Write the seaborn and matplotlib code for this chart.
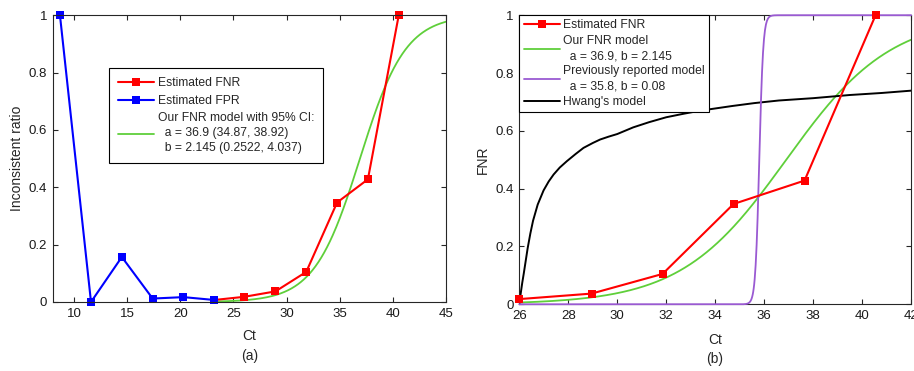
import numpy as np
import pandas as pd
import matplotlib
matplotlib.use("Agg")
import matplotlib.pyplot as plt
import seaborn as sns

# ---------------- data ----------------
ct_fpr = [8.68, 11.6, 14.5, 17.4, 20.3, 23.2]
fpr = [1.0, 0.0, 0.157, 0.012, 0.017, 0.007]

ct_fnr = [23.2, 26.0, 28.95, 31.85, 34.75, 37.65, 40.55]
fnr = [0.007, 0.018, 0.037, 0.105, 0.347, 0.428, 1.0]

# fitted logistic model parameters (from legend)
a_ours, b_ours = 36.9, 2.145
a_prev, b_prev = 35.8, 0.08

# Hwang's model curve
ct_hwang = [26.0, 26.06, 26.12, 26.18, 26.26, 26.34, 26.45, 26.56, 26.75, 26.99,
            27.2, 27.40, 27.65, 27.94, 28.3, 28.62, 29.0, 29.30, 29.65, 30.0,
            30.65, 31.3, 32.0, 32.7, 33.4, 34.7, 35.6, 36.6, 38.0, 39.5, 40.8, 42.0]
hwang = [0.0, 0.04, 0.075, 0.106, 0.150, 0.194, 0.245, 0.289, 0.345, 0.394,
         0.425, 0.449, 0.473, 0.495, 0.520, 0.541, 0.558, 0.570, 0.580, 0.589,
         0.612, 0.630, 0.647, 0.659, 0.670, 0.686, 0.696, 0.705, 0.713, 0.724, 0.731, 0.739]

yticks = [0, 0.2, 0.4, 0.6, 0.8, 1]
yticklabels = ["0", "0.2", "0.4", "0.6", "0.8", "1"]
xticks_a = [10, 15, 20, 25, 30, 35, 40, 45]
xticks_b = [26, 28, 30, 32, 34, 36, 38, 40, 42]


def logistic(x, a, b):
    return 1.0 / (1.0 + np.exp(-(x - a) / b))


# ---------------- style ----------------
sns.set_theme(style="ticks")
plt.rcParams["font.family"] = ["Liberation Sans", "DejaVu Sans"]
plt.rcParams["axes.edgecolor"] = "#262626"
plt.rcParams["axes.linewidth"] = 0.8

RED = "#ff0000"
BLUE = "#0000ff"
GREEN = "#5fcf3a"
PURPLE = "#9a5ad2"
BLACK = "#000000"

fig = plt.figure(figsize=(9.14, 3.71), dpi=100)
ax1 = fig.add_axes([0.0577, 0.186, 0.4303, 0.7728])
ax2 = fig.add_axes([0.5682, 0.1798, 0.4286, 0.7792])

# ---------------- panel (a) ----------------
xg_a = np.linspace(ct_fnr[0], 45, 400)
df_ga = pd.DataFrame({"Ct": xg_a, "v": logistic(xg_a, a_ours, b_ours)})
sns.lineplot(data=df_ga, x="Ct", y="v", ax=ax1, color=GREEN, linewidth=1.3,
             label="Our FNR model with 95% CI:\n  a = 36.9 (34.87, 38.92)\n  b = 2.145 (0.2522, 4.037)")
sns.lineplot(x=ct_fnr, y=fnr, ax=ax1, color=RED, linewidth=1.5, marker="s",
             markersize=5.5, markeredgewidth=0, clip_on=False, label="Estimated FNR")
sns.lineplot(x=ct_fpr, y=fpr, ax=ax1, color=BLUE, linewidth=1.5, marker="s",
             markersize=5.5, markeredgewidth=0, clip_on=False, label="Estimated FPR")

ax1.set_xlim(8, 45)
ax1.set_ylim(0, 1)
ax1.set_xticks(xticks_a)
ax1.set_yticks(yticks)
ax1.set_yticklabels(yticklabels)

h, l = ax1.get_legend_handles_labels()
order = [1, 2, 0]
leg1 = ax1.legend([h[i] for i in order], [l[i] for i in order],
                  loc="upper left", bbox_to_anchor=(0.143, 0.815), borderaxespad=0,
                  fancybox=False, edgecolor="black", framealpha=1, fontsize=8.7,
                  handlelength=3.0, handletextpad=0.3, labelspacing=0.45, borderpad=0.75)
leg1.get_frame().set_linewidth(0.8)
for t in leg1.get_texts():
    t.set_linespacing(1.34)

ax1.set_ylabel("Inconsistent ratio", fontsize=10, va="center")
ax1.yaxis.set_label_coords((17 - 52.7) / 393.3, 0.5)
ax1.set_xlabel("Ct", fontsize=10, va="center")
ax1.xaxis.set_label_coords(0.5, (302 - 336) / 286.7)
fig.text(249.5 / 914, (371 - 356) / 371, "(a)", ha="center", va="center", fontsize=10)

# ---------------- panel (b) ----------------
xg_b = np.linspace(26, 42, 800)
df_gb = pd.DataFrame({"Ct": xg_b, "v": logistic(xg_b, a_ours, b_ours)})
df_pb = pd.DataFrame({"Ct": xg_b, "v": logistic(xg_b, a_prev, b_prev)})
sns.lineplot(data=df_gb, x="Ct", y="v", ax=ax2, color=GREEN, linewidth=1.3,
             label="Our FNR model\n  a = 36.9, b = 2.145")
sns.lineplot(data=df_pb, x="Ct", y="v", ax=ax2, color=PURPLE, linewidth=1.3,
             clip_on=False, zorder=3,
             label="Previously reported model\n  a = 35.8, b = 0.08")
sns.lineplot(x=ct_hwang, y=hwang, ax=ax2, color=BLACK, linewidth=1.4,
             label="Hwang's model")
sns.lineplot(x=ct_fnr[1:], y=fnr[1:], ax=ax2, color=RED, linewidth=1.5, marker="s",
             markersize=5.5, markeredgewidth=0, clip_on=False, zorder=4,
             label="Estimated FNR")

ax2.set_xlim(26, 42)
ax2.set_ylim(0, 1)
ax2.set_xticks(xticks_b)
ax2.set_yticks(yticks)
ax2.set_yticklabels(yticklabels)

h, l = ax2.get_legend_handles_labels()
order = [3, 0, 1, 2]
leg2 = ax2.legend([h[i] for i in order], [l[i] for i in order],
                  loc="upper left", bbox_to_anchor=(0, 1), borderaxespad=0,
                  fancybox=False, edgecolor="black", framealpha=1, fontsize=8.7,
                  handlelength=3.0, handletextpad=0.3, labelspacing=0.27, borderpad=0.35)
leg2.get_frame().set_linewidth(0.8)
for t in leg2.get_texts():
    t.set_linespacing(1.38)

ax2.set_ylabel("FNR", fontsize=10, va="center")
ax2.yaxis.set_label_coords((483 - 519.3) / 391.7, 0.5)
ax2.set_xlabel("Ct", fontsize=10, va="center")
ax2.xaxis.set_label_coords(0.5, (304.3 - 340) / 289.1)
fig.text(715 / 914, (371 - 359) / 371, "(b)", ha="center", va="center", fontsize=10)

for ax in (ax1, ax2):
    ax.grid(False)
    for s in ax.spines.values():
        s.set_visible(True)
        s.set_color("#262626")
        s.set_linewidth(0.8)
    ax.tick_params(direction="in", length=3.5, width=0.8, top=True, right=True,
                   labelsize=9.5, pad=4, colors="#262626", labelcolor="#1a1a1a")

fig.savefig("out.png", dpi=100)
